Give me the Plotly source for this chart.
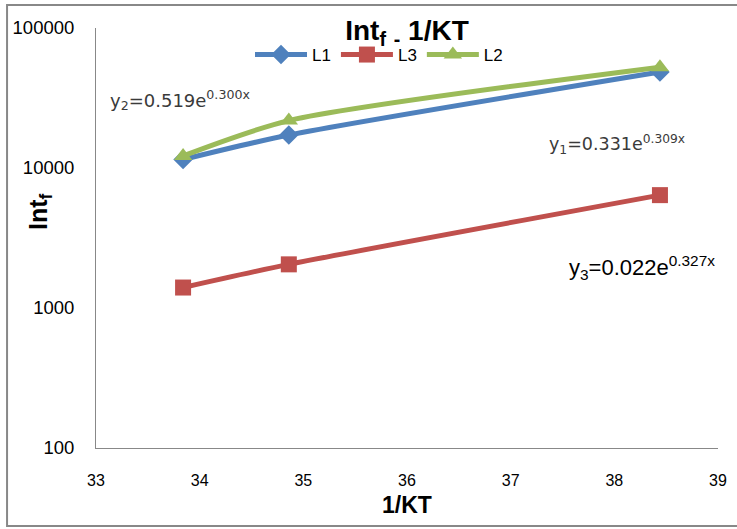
import plotly.graph_objects as go

x_vals = [33.84, 34.86, 38.44]
l1 = [11500, 17200, 48500]
l3 = [1400, 2050, 6400]
l2 = [12200, 21800, 52500]

series = [
    ("L1", l1, "#4F81BD", "diamond", 15),
    ("L3", l3, "#C0504D", "square", 16),
    ("L2", l2, "#9BBB59", "triangle-up", 16),
]

fig = go.Figure()
for name, ys, col, sym, ms in series:
    fig.add_trace(go.Scatter(
        x=x_vals, y=ys, name=name, mode="lines+markers",
        line=dict(color=col, width=5, shape="spline", smoothing=0.7),
        marker=dict(symbol=sym, size=ms, color=col),
    ))

fig.update_layout(
    width=737, height=529,
    margin=dict(l=96, r=19, t=28, b=81),
    paper_bgcolor="white", plot_bgcolor="white",
    font=dict(family="Liberation Sans", size=16, color="black"),
    title=dict(text="<b>Int<sub>f</sub> <sub>-</sub> 1/KT</b>", x=0.5, xanchor="center",
               xref="paper", y=1 - 30 / 529, yref="container", yanchor="middle",
               font=dict(size=28)),
    showlegend=True,
    legend=dict(orientation="h", x=0.455, xanchor="center", y=(448 - 55) / 420, yanchor="middle",
                font=dict(size=17), bgcolor="rgba(0,0,0,0)", itemwidth=52,
                tracegroupgap=0),
    xaxis=dict(range=[33, 39], dtick=1, showline=True, linecolor="#888888", linewidth=1,
               showgrid=False, zeroline=False, ticks="", ticklabelstandoff=18,
               tickfont=dict(size=16), automargin=False,
               title=dict(text="<b>1/KT</b>", font=dict(size=23), standoff=8)),
    yaxis=dict(type="log", range=[2, 5], dtick=1, showline=True, linecolor="#888888",
               linewidth=1, showgrid=False, zeroline=False, ticks="", ticklabelstandoff=17,
               tickformat="d", tickfont=dict(size=18.5), automargin=False),
)

fig.add_shape(type="rect", xref="paper", yref="paper", x0=-0.143, x1=1.05, y0=-0.186, y1=1.055,
              line=dict(color="#888888", width=2))

fig.add_annotation(x=(40 - 96) / 622, y=(448 - 212) / 420, xref="paper", yref="paper",
                   showarrow=False, textangle=-90, xanchor="center", yanchor="middle",
                   text="<b>Int<sub>f</sub></b>", font=dict(family="Liberation Sans", size=25))

fig.add_annotation(x=0.019, y=0.864, xref="paper", yref="paper", xanchor="left", showarrow=False,
                   text="y<sub>2</sub>=0.519e<sup>0.300x</sup>",
                   font=dict(family="DejaVu Sans", size=18, color="#3a3a3a"))
fig.add_annotation(x=0.725, y=0.757, xref="paper", yref="paper", xanchor="left", showarrow=False,
                   text="y<sub>1</sub>=0.331e<sup>0.309x</sup>",
                   font=dict(family="DejaVu Sans", size=17.5, color="#3a3a3a"))
fig.add_annotation(x=0.757, y=0.429, xref="paper", yref="paper", xanchor="left", showarrow=False,
                   text="y<sub>3</sub>=0.022e<sup>0.327x</sup>",
                   font=dict(family="Liberation Sans", size=22, color="black"))

fig.write_html("out.html")
